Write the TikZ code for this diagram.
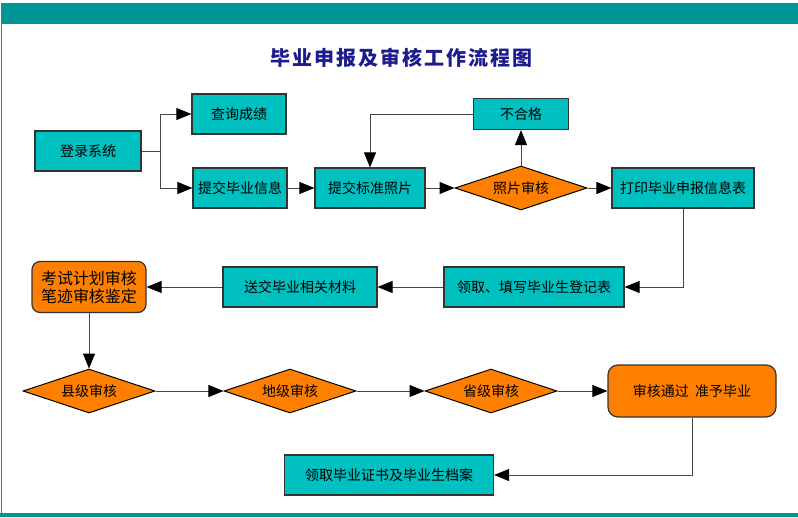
\documentclass[tikz,border=0pt]{standalone}
\usepackage{fontspec}
\newfontfamily\cjk{Noto Sans CJK SC}
\definecolor{BarTeal}{RGB}{0, 150, 150}
\definecolor{BoxCyan}{RGB}{0, 192, 192}
\definecolor{NodeOrange}{RGB}{255, 128, 0}
\definecolor{TitleNavy}{RGB}{28, 28, 140}
\definecolor{LineGray}{RGB}{70, 70, 70}
\usetikzlibrary{arrows.meta, positioning, shapes.geometric}

\begin{document}
\begin{tikzpicture}[x=1pt, y=-1pt, >={Triangle[length=15pt, width=12pt, black]},
    every node/.style={font=\cjk\fontsize{14}{16}\selectfont},
    stepbox/.style={draw=black!80, line width=1.2pt, fill=BoxCyan, minimum height=40pt, inner sep=0pt},
    passbox/.style={draw=black!80, line width=1.2pt, fill=NodeOrange, rounded corners=9pt, inner sep=0pt, align=center},
    checkbox/.style={diamond, draw=black, line width=1pt, fill=NodeOrange, aspect=3, inner sep=0pt, minimum width=132pt, minimum height=44pt},
    flow/.style={->, draw=LineGray, line width=1pt}]
    \useasboundingbox (0,0) rectangle (798,517);
    % frame
    \fill[BarTeal] (1,3) rectangle (798,24);
    \fill[BarTeal] (0,513) rectangle (798,517);
    \draw[BarTeal, line width=1.5pt] (1.5,24) -- (1.5,513);
    \node[font=\cjk\bfseries\fontsize{20}{22}\selectfont, text=TitleNavy] (title) at (401,58) {毕\kern2pt 业\kern2pt 申\kern2pt 报\kern2pt 及\kern2pt 审\kern2pt 核\kern2pt 工\kern2pt 作\kern2pt 流\kern2pt 程\kern2pt 图};

    % first row
    \node[stepbox, minimum width=106pt] (login) at (88,151) {登录系统};
    \node[stepbox, minimum width=94pt] (query) at (239,114) {查询成绩};
    \node[stepbox, minimum width=94pt] (info) at (240,188) {提交毕业信息};
    \node[stepbox, minimum width=110pt] (photo) at (370,188) {提交标准照片};
    \node[stepbox, minimum width=95pt, minimum height=31pt] (fail) at (521,114) {不合格};
    \node[checkbox] (photochk) at (521,188) {照片审核};
    \node[stepbox, minimum width=142pt] (print) at (683,188) {打印毕业申报信息表};

    % second row
    \node[stepbox, minimum width=180pt] (fill) at (534,287) {领取、填写毕业生登记表};
    \node[stepbox, minimum width=154pt] (send) at (300,287) {送交毕业相关材料};
    \node[passbox, minimum width=114pt, minimum height=51pt, rounded corners=8pt, font=\cjk\fontsize{16}{18}\selectfont] (exam) at (89,287) {考试计划审核\\笔迹审核鉴定};

    % third row
    \node[checkbox] (county) at (89,391) {县级审核};
    \node[checkbox] (city) at (290,391) {地级审核};
    \node[checkbox] (prov) at (491,391) {省级审核};
    \node[passbox, minimum width=168pt, minimum height=52pt, rounded corners=10pt] (pass) at (692,391) {审核通过\ \ 准予毕业};

    % last row
    \node[stepbox, minimum width=209pt] (archive) at (389,475) {领取毕业证书及毕业生档案};

    \draw[flow] (login.east) -- ++(19,0) |- (query.west);
    \draw[flow] (login.east) -- ++(19,0) |- (info.west);
    \draw[flow] (info) -- (photo);
    \draw[flow] (photo) -- (photochk);
    \draw[flow] (photochk) -- (fail);
    \draw[flow] (fail.west) -| (photo.north);
    \draw[flow] (photochk) -- (print);
    \draw[flow] (print.south) |- (fill.east);
    \draw[flow] (fill) -- (send);
    \draw[flow] (send) -- (exam);
    \draw[flow] (exam) -- (county);
    \draw[flow] (county) -- (city);
    \draw[flow] (city) -- (prov);
    \draw[flow] (prov) -- (pass);
    \draw[flow] (pass.south) |- (archive.east);
\end{tikzpicture}
\end{document}
